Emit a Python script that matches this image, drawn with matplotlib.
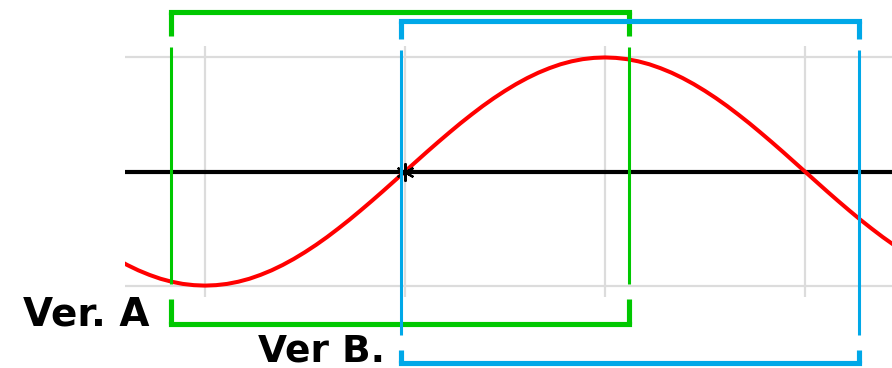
import matplotlib.pyplot as plt

# phase in degrees, wave value
angles = list(range(-130, 225, 5))
wave = [-0.766, -0.819, -0.866, -0.906, -0.940, -0.966, -0.985, -0.996, -1.0,
        -0.996, -0.985, -0.966, -0.940, -0.906, -0.866, -0.819, -0.766, -0.707,
        -0.643, -0.574, -0.5, -0.423, -0.342, -0.259, -0.174, -0.087, 0.0,
        0.087, 0.174, 0.259, 0.342, 0.423, 0.5, 0.574, 0.643, 0.707, 0.766,
        0.819, 0.866, 0.906, 0.940, 0.966, 0.985, 0.996, 1.0, 0.996, 0.985,
        0.966, 0.940, 0.906, 0.866, 0.819, 0.766, 0.707, 0.643, 0.574, 0.5,
        0.423, 0.342, 0.259, 0.174, 0.087, 0.0, -0.087, -0.174, -0.259, -0.342,
        -0.423, -0.5, -0.574, -0.643]

grid_x = [-90, 0, 90, 180]
grid_y = [-1, 0, 1]

# bracket spans (x in degrees) and labels
ver_a = {"x0": -105.4, "x1": 100.8, "top": 1.40, "bot": -1.336, "label": "Ver. A"}
ver_b = {"x0": -1.9, "x1": 204.3, "top": 1.32, "bot": -1.677, "label": "Ver B."}

fig = plt.figure(figsize=(8.92, 3.68), dpi=100)
ax = fig.add_axes([0.1401, 0.1929, 0.8599, 0.682])
ax.set_xlim(-126, 219.2)
ax.set_ylim(-1.1, 1.1)
for s in ax.spines.values():
    s.set_visible(False)
ax.set_xticks(grid_x)
ax.set_yticks(grid_y)
ax.tick_params(length=0, labelbottom=False, labelleft=False)
ax.grid(True, color="#dcdcdc", lw=1.6)

ax.axhline(0, color="black", lw=3, zorder=3)
ax.plot(angles, wave, color="#ff0000", lw=2.9, zorder=4)
ax.plot([0], [0], marker=(6, 2, 0), ms=13, mew=1.6, color="black", zorder=5)


def bracket(b, color, thin_top, thin_bot):
    kw = dict(color=color, clip_on=False, solid_capstyle="butt", zorder=6)
    for x in (b["x0"], b["x1"]):
        ax.plot([x, x], [b["top"], thin_top + 0.1], lw=3.7, **kw)
        ax.plot([x, x], [thin_top, thin_bot], lw=2.2, **kw)
        ax.plot([x, x], [thin_bot - 0.13, b["bot"]], lw=3.7, **kw)
    for y in (b["top"], b["bot"]):
        ax.plot([b["x0"], b["x1"]], [y, y], lw=3.7, color=color, clip_on=False,
                solid_capstyle="projecting", zorder=6)


bracket(ver_a, "#00c800", 1.092, -0.987)
bracket(ver_b, "#00a8e8", 1.066, -1.432)

ax.text(-114.75, -1.354, ver_a["label"], ha="right", va="baseline", fontsize=28,
        fontweight="bold", family="DejaVu Sans", clip_on=False)
ax.text(-9, -1.665, ver_b["label"], ha="right", va="baseline", fontsize=27,
        fontweight="bold", family="DejaVu Sans", clip_on=False)

fig.savefig("out.png", dpi=100)
